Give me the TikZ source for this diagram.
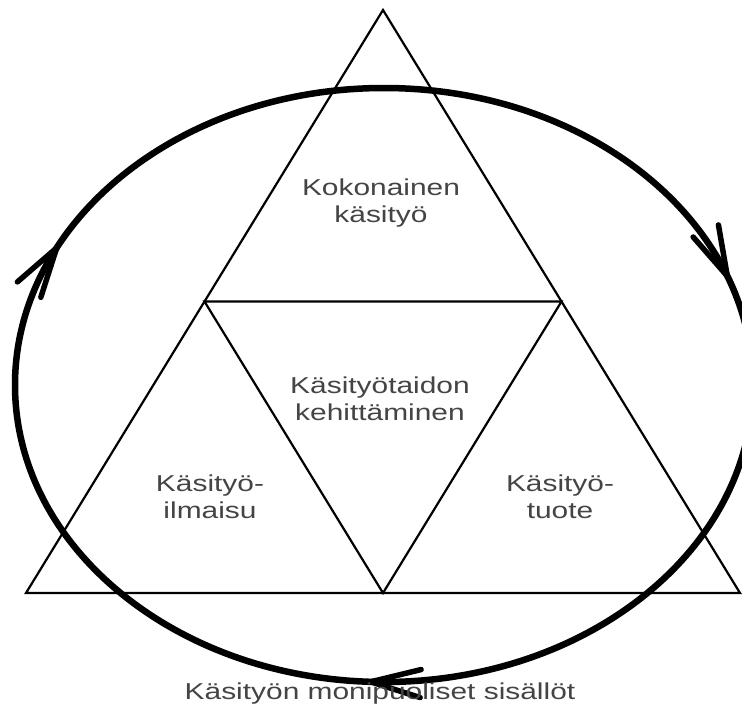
\documentclass[tikz,border=0pt]{standalone}
\usepackage{fontspec}
\setmainfont{Liberation Sans}[FakeStretch=1.3]
\usetikzlibrary{arrows.meta,calc}
\definecolor{labelgray}{RGB}{68,68,68}
\begin{document}
\begin{tikzpicture}[x=1pt,y=-1pt,
  edge/.style={line width=2.2pt, line join=miter},
  cycleline/.style={line width=6.5pt, line cap=round},
  barb/.style={-{Straight Barb[length=50pt,width=28pt,line width'=5.5pt,round]}},
  lbl/.style={text=labelgray, font=\fontsize{23}{27.5}\selectfont, align=center, inner sep=0pt}]
\useasboundingbox (0,0) rectangle (742,713);
\clip (0,0) rectangle (742,713);

% outer triangle and the inner (midpoint) triangle
\coordinate (apex) at (383,10);
\coordinate (bl) at (26,593);
\coordinate (br) at (740,593);
\coordinate (ml) at ($(apex)!0.5!(bl)$);
\coordinate (mr) at ($(apex)!0.5!(br)$);
\coordinate (mb) at ($(bl)!0.5!(br)$);
\draw[edge] (apex) -- (br) -- (bl) -- cycle;
\draw[edge] (ml) -- (mr) -- (mb) -- cycle;

% clockwise cycle around the triangle
\coordinate (ell) at (384,385);
\draw[cycleline] (ell) ellipse[x radius=369, y radius=297];

% arrowheads: short arcs ending at the tips
\coordinate (ea) at ($(ell)+(-25:369 and 297)$);
\coordinate (eb) at ($(ell)+(88.5:369 and 297)$);
\coordinate (ec) at ($(ell)+(204:369 and 297)$);
\draw[cycleline, barb] (ea) arc[start angle=-25, end angle=-21, x radius=369, y radius=297];
\draw[cycleline, barb] (eb) arc[start angle=88.5, end angle=92.5, x radius=369, y radius=297];
\draw[cycleline, barb] (ec) arc[start angle=204, end angle=208, x radius=369, y radius=297];

% labels
\node[lbl] (whole) at (381,203) {Kokonainen\\käsityö};
\node[lbl] (skill) at (380,399) {Käsityötaidon\\kehittäminen};
\node[lbl] (expr) at (210,497) {Käsityö-\\ilmaisu};
\node[lbl] (prod) at (560,497) {Käsityö-\\tuote};
\node[lbl] (content) at (380,694) {Käsityön monipuoliset sisällöt};
\end{tikzpicture}
\end{document}
